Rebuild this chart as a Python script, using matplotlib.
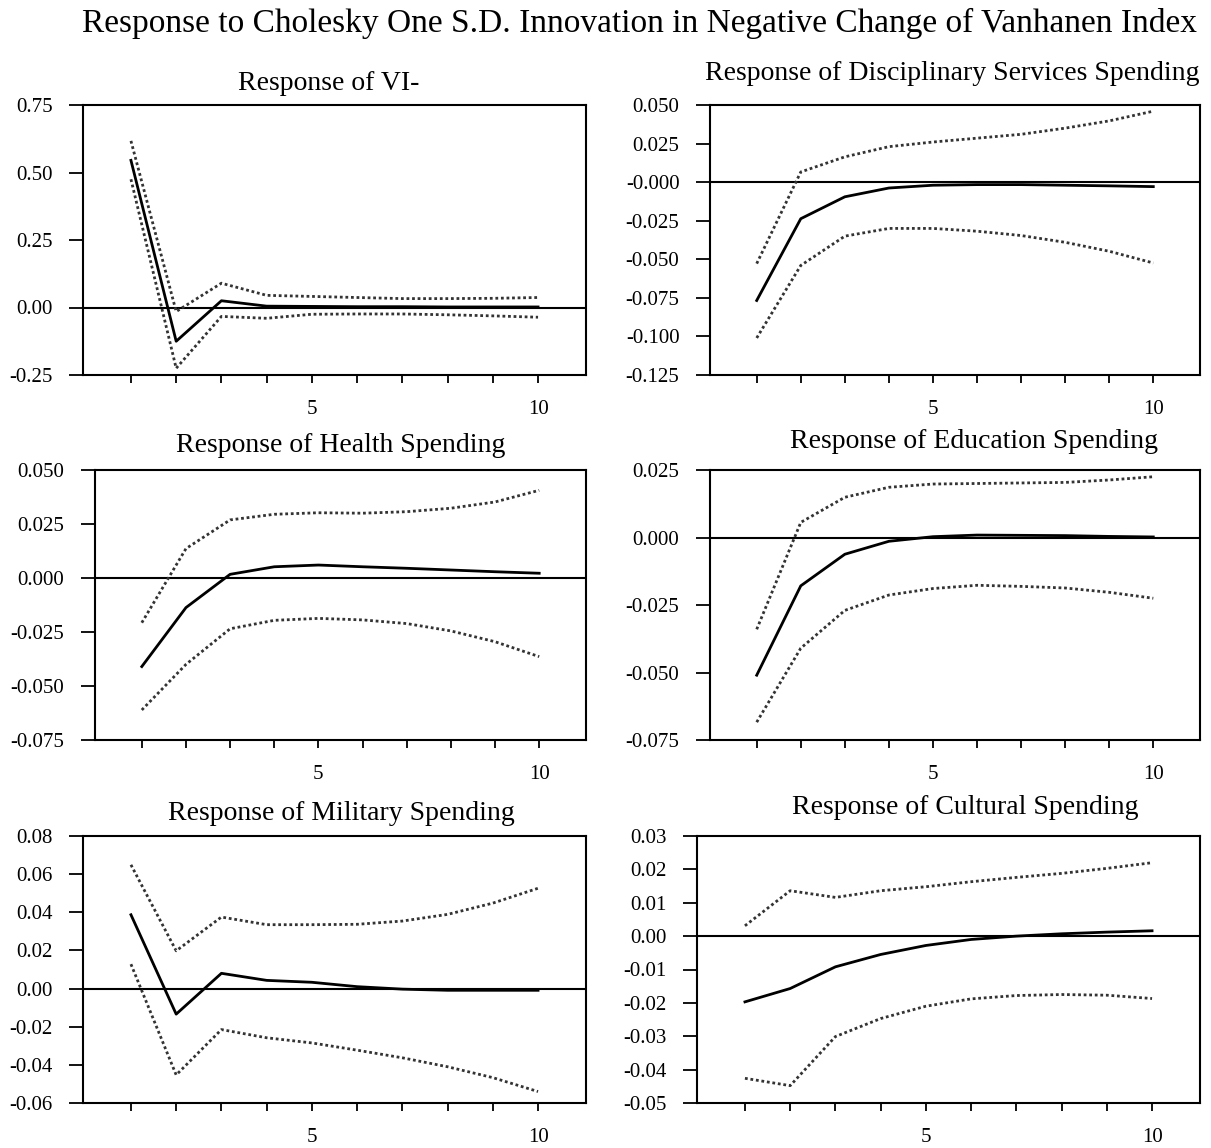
#!/usr/bin/env python3
"""Impulse responses to a Cholesky one S.D. shock in the negative change of the Vanhanen index."""

import matplotlib
matplotlib.use("Agg")
import matplotlib.pyplot as plt
from matplotlib.ticker import FixedLocator, FixedFormatter

plt.rcParams["font.family"] = ["Liberation Serif", "DejaVu Serif"]

periods = [1, 2, 3, 4, 5, 6, 7, 8, 9, 10]

# Response of VI-
vi_resp = [0.545, -0.125, 0.025, 0.005, 0.004, 0.003, 0.003, 0.002, 0.002, 0.002]
vi_upper = [0.617, -0.015, 0.090, 0.045, 0.041, 0.037, 0.033, 0.033, 0.034, 0.037]
vi_lower = [0.475, -0.225, -0.033, -0.040, -0.025, -0.024, -0.024, -0.027, -0.031, -0.036]
vi_ticks = [0.75, 0.50, 0.25, 0.00, -0.25]
vi_labels = ["0.75", "0.50", "0.25", "0.00", "-0.25"]

# Response of Disciplinary Services Spending
disc_resp = [-0.0767, -0.0237, -0.0095, -0.0038, -0.0020, -0.0016, -0.0016, -0.0020, -0.0024, -0.0029]
disc_upper = [-0.0528, 0.0066, 0.0164, 0.0230, 0.0260, 0.0285, 0.0310, 0.0350, 0.0397, 0.0460]
disc_lower = [-0.1010, -0.0540, -0.0350, -0.0300, -0.0300, -0.0318, -0.0346, -0.0390, -0.0448, -0.0524]
disc_ticks = [0.050, 0.025, 0.000, -0.025, -0.050, -0.075, -0.100, -0.125]
disc_labels = ["0.050", "0.025", "-0.000", "-0.025", "-0.050", "-0.075", "-0.100", "-0.125"]

# Response of Health Spending
health_resp = [-0.0410, -0.0137, 0.0017, 0.0052, 0.0060, 0.0052, 0.0045, 0.0037, 0.0029, 0.0022]
health_upper = [-0.0207, 0.0136, 0.0269, 0.0295, 0.0302, 0.0300, 0.0307, 0.0323, 0.0352, 0.0406]
health_lower = [-0.0611, -0.0400, -0.0235, -0.0196, -0.0187, -0.0194, -0.0211, -0.0245, -0.0295, -0.0364]
health_ticks = [0.050, 0.025, 0.000, -0.025, -0.050, -0.075]
health_labels = ["0.050", "0.025", "0.000", "-0.025", "-0.050", "-0.075"]

# Response of Education Spending
edu_resp = [-0.0510, -0.0179, -0.0062, -0.0014, 0.0003, 0.0009, 0.0008, 0.0007, 0.0004, 0.0002]
edu_upper = [-0.0340, 0.0056, 0.0149, 0.0186, 0.0198, 0.0200, 0.0202, 0.0204, 0.0213, 0.0225]
edu_lower = [-0.0684, -0.0410, -0.0270, -0.0213, -0.0189, -0.0177, -0.0181, -0.0187, -0.0203, -0.0225]
edu_ticks = [0.025, 0.000, -0.025, -0.050, -0.075]
edu_labels = ["0.025", "0.000", "-0.025", "-0.050", "-0.075"]

# Response of Military Spending
mil_resp = [0.0387, -0.0134, 0.0080, 0.0043, 0.0033, 0.0010, -0.0003, -0.0009, -0.0009, -0.0009]
mil_upper = [0.0649, 0.0198, 0.0375, 0.0335, 0.0335, 0.0337, 0.0354, 0.0389, 0.0448, 0.0526]
mil_lower = [0.0128, -0.0453, -0.0215, -0.0258, -0.0285, -0.0323, -0.0363, -0.0410, -0.0467, -0.0540]
mil_ticks = [0.08, 0.06, 0.04, 0.02, 0.00, -0.02, -0.04, -0.06]
mil_labels = ["0.08", "0.06", "0.04", "0.02", "0.00", "-0.02", "-0.04", "-0.06"]

# Response of Cultural Spending
cult_resp = [-0.0197, -0.0157, -0.0092, -0.0055, -0.0028, -0.0010, 0.0000, 0.0007, 0.0012, 0.0016]
cult_upper = [0.0031, 0.0136, 0.0116, 0.0136, 0.0148, 0.0163, 0.0176, 0.0188, 0.0203, 0.0220]
cult_lower = [-0.0426, -0.0448, -0.0301, -0.0247, -0.0210, -0.0188, -0.0178, -0.0175, -0.0177, -0.0187]
cult_ticks = [0.03, 0.02, 0.01, 0.00, -0.01, -0.02, -0.03, -0.04, -0.05]
cult_labels = ["0.03", "0.02", "0.01", "0.00", "-0.01", "-0.02", "-0.03", "-0.04", "-0.05"]

x_labels = ["", "", "", "", "5", "", "", "", "", "10"]

W, H = 1211, 1148

# (title, series, ticks, labels, axes box in px [left, top, right, bottom], title centre px)
panels = [
    ("Response of VI-", (vi_resp, vi_upper, vi_lower), vi_ticks, vi_labels,
     (83, 105, 586, 375), (329, 84)),
    ("Response of Disciplinary Services Spending", (disc_resp, disc_upper, disc_lower),
     disc_ticks, disc_labels, (710, 105, 1200, 375), (952, 74)),
    ("Response of Health Spending", (health_resp, health_upper, health_lower),
     health_ticks, health_labels, (95, 470, 586, 740), (341, 446)),
    ("Response of Education Spending", (edu_resp, edu_upper, edu_lower),
     edu_ticks, edu_labels, (710, 470, 1200, 740), (974, 441)),
    ("Response of Military Spending", (mil_resp, mil_upper, mil_lower),
     mil_ticks, mil_labels, (83, 836, 586, 1103), (341, 814)),
    ("Response of Cultural Spending", (cult_resp, cult_upper, cult_lower),
     cult_ticks, cult_labels, (697, 836, 1200, 1103), (965, 808)),
]


def draw_panel(fig, title, series, yticks, ylabels, box, title_pos):
    left, top, right, bottom = box
    ax = fig.add_axes([left / W, 1 - bottom / H, (right - left) / W, (bottom - top) / H])
    resp, upper, lower = series

    ax.axhline(0, color="black", lw=1.5, zorder=1)
    ax.plot(periods, upper, color="#333333", lw=2.0, linestyle=(0, (1, 1)), zorder=2)
    ax.plot(periods, lower, color="#333333", lw=2.0, linestyle=(0, (1, 1)), zorder=2)
    ax.plot(periods, resp, color="black", lw=2.0, zorder=3)

    ax.set_xlim(-0.06, 11.06)
    ax.set_ylim(min(yticks), max(yticks))
    ax.yaxis.set_major_locator(FixedLocator(yticks))
    ax.yaxis.set_major_formatter(FixedFormatter(ylabels))
    ax.xaxis.set_major_locator(FixedLocator(periods))
    ax.xaxis.set_major_formatter(FixedFormatter(x_labels))

    ax.tick_params(axis="y", direction="out", length=10, width=1.3, pad=12, labelsize=15)
    ax.tick_params(axis="x", direction="out", length=6, width=1.3, pad=12, labelsize=15)
    for spine in ax.spines.values():
        spine.set_linewidth(1.5)

    fig.text(title_pos[0] / W, 1 - title_pos[1] / H, title, ha="center", va="center", fontsize=20)


def main() -> None:
    fig = plt.figure(figsize=(W / 100, H / 100), dpi=100)
    fig.text(640 / W, 1 - 23 / H,
             "Response to Cholesky One S.D. Innovation in Negative Change of Vanhanen Index",
             ha="center", va="center", fontsize=24)
    for title, series, yticks, ylabels, box, title_pos in panels:
        draw_panel(fig, title, series, yticks, ylabels, box, title_pos)
    fig.savefig("out.png", dpi=100)


if __name__ == "__main__":
    main()
